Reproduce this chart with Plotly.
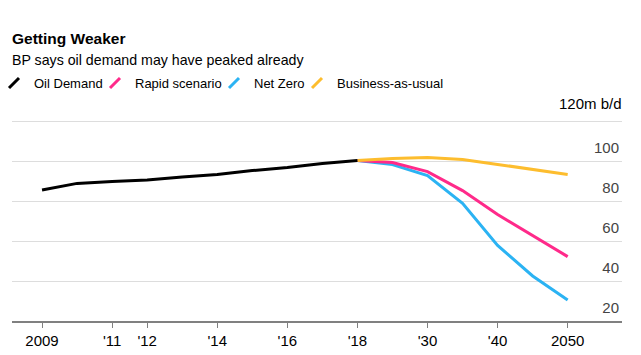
import plotly.graph_objects as go

# ---- data ----
hist_years = ["2009", "2010", "2011", "2012", "2013", "2014", "2015", "2016", "2017", "2018"]
oil_demand = [85.5, 88.8, 89.7, 90.5, 92.0, 93.3, 95.2, 96.8, 98.8, 100.2]

proj_years = ["2018", "2025", "2030", "2035", "2040", "2045", "2050"]
rapid = [100.2, 99.2, 94.7, 85.2, 73.2, 62.7, 52.2]
net_zero = [100.2, 98.2, 92.7, 78.8, 57.8, 42.5, 30.5]
business_as_usual = [100.2, 101.2, 101.8, 100.7, 98.3, 95.8, 93.3]

all_years = hist_years + proj_years[1:]
x_tick_vals = ["2009", "2011", "2012", "2014", "2016", "2018", "2030", "2040", "2050"]
x_tick_text = ["2009", "'11", "'12", "'14", "'16", "'18", "'30", "'40", "2050"]
y_tick_vals = [20, 40, 60, 80, 100, 120]
y_tick_text = ["20", "40", "60", "80", "100", ""]
y_unit_label = "120m b/d"

series = [
    ("Oil Demand", hist_years, oil_demand, "#000000"),
    ("Rapid scenario", proj_years, rapid, "#ff2a8a"),
    ("Net Zero", proj_years, net_zero, "#2bb3f3"),
    ("Business-as-usual", proj_years, business_as_usual, "#fdbd2e"),
]

FONT = "Liberation Sans, Arial, sans-serif"

fig = go.Figure()
# draw order: scenarios then history on top
for name, xs, ys, col in [series[2], series[1], series[3], series[0]]:
    fig.add_trace(go.Scatter(x=xs, y=ys, mode="lines", name=name,
                             line=dict(color=col, width=3),
                             showlegend=False, hoverinfo="x+y"))

# legend entries with slanted icons, one legend per entry for spacing
legend_ids = ["legend", "legend2", "legend3", "legend4"]
legend_x_px = [-6, 95, 214, 297]
for (name, xs, ys, col), lid in zip(series, legend_ids):
    fig.add_trace(go.Scatter(x=[None], y=[None], mode="markers", name=name,
                             legend=lid,
                             marker=dict(symbol="line-ne", size=10,
                                         line=dict(color=col, width=3)),
                             showlegend=True))

plot_l, plot_w, plot_b, plot_h = 12, 610, 321, 220
legend_layout = {}
for lid, px in zip(legend_ids, legend_x_px):
    legend_layout[lid] = dict(orientation="h", xanchor="left",
                              x=(px - plot_l) / plot_w,
                              y=(plot_b - 83) / plot_h, yanchor="middle",
                              font=dict(size=13, family=FONT), itemwidth=30,
                              bgcolor="rgba(0,0,0,0)")

fig.update_layout(
    width=641, height=355,
    margin=dict(l=12, r=19, t=101, b=34, autoexpand=False),
    paper_bgcolor="white", plot_bgcolor="white",
    font=dict(family=FONT, color="#000000", size=15),
    showlegend=True,
    xaxis=dict(type="category", categoryorder="array", categoryarray=all_years,
               range=[-0.857, 16.55], automargin=False,
               tickmode="array", tickvals=x_tick_vals, ticktext=x_tick_text,
               showgrid=False, zeroline=False,
               showline=True, linecolor="#808080", linewidth=2,
               ticks="outside", ticklen=5, tickcolor="#808080", tickwidth=1,
               tickfont=dict(size=15, family=FONT)),
    yaxis=dict(range=[20, 130], side="right", automargin=False,
               tickmode="array", tickvals=y_tick_vals, ticktext=y_tick_text,
               ticklabelposition="inside top", ticklabelshift=-3,
               showgrid=True, gridcolor="#dddddd", gridwidth=1,
               zeroline=False, showline=False, ticks="",
               tickfont=dict(size=15, family=FONT)),
    annotations=[
        dict(text="<b>Getting Weaker</b>", xref="paper", yref="paper",
             x=-0.003, y=(plot_b - 38) / plot_h, xanchor="left", yanchor="middle",
             showarrow=False, font=dict(size=15.5, family=FONT)),
        dict(text="BP says oil demand may have peaked already", xref="paper", yref="paper",
             x=-0.003, y=(plot_b - 60) / plot_h, xanchor="left", yanchor="middle",
             showarrow=False, font=dict(size=14.2, family=FONT)),
        dict(text=y_unit_label, xref="paper", yref="y",
             x=1, y=y_tick_vals[-1], xanchor="right", yanchor="middle", yshift=18, xshift=2,
             showarrow=False, font=dict(size=15, family=FONT)),
    ],
    **legend_layout,
)

fig.write_html("out.html", config={"displayModeBar": False},
               post_script="document.body.style.margin='0';")
